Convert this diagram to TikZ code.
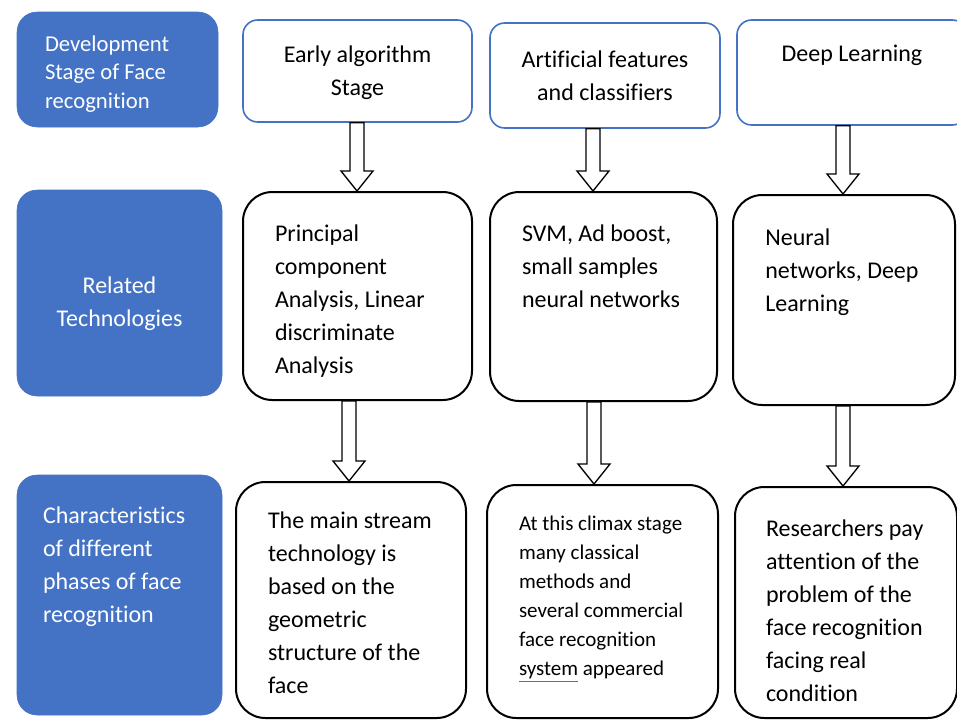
\documentclass[tikz,border=0pt]{standalone}
\usepackage{fontspec}
\setmainfont{Carlito}[Ligatures=NoCommon]
\usetikzlibrary{calc}
\definecolor{wordblue}{HTML}{4472C4}
\newcommand{\bigtext}{\fontsize{18}{24.75}\selectfont}
\newcommand{\firsttext}{\fontsize{17}{21.4}\selectfont}
\newcommand{\smalltext}{\fontsize{15.75}{21.75}\selectfont}
\tikzset{
  stage/.style={fill=wordblue, draw=wordblue, text=white, rounded corners=15pt, font=\bigtext, inner sep=0pt},
  head/.style={draw=wordblue, fill=white, line width=1.2pt, rounded corners=11pt, align=flush center, text width=150pt, font=\bigtext, inner sep=0pt},
  tech/.style={draw=black, fill=white, line width=1.5pt, rounded corners=22pt, align=flush left, font=\bigtext, inner sep=0pt},
  hollow/.style={draw=black, fill=white, line width=1pt, line join=miter},
  firstline/.style={text height=0pt, text depth=#1},
}

\begin{document}
\begin{tikzpicture}[x=0.75pt, y=-0.75pt]
  \clip (0,0) rectangle (957,722);
  % left column
  \node[stage, minimum width=150.75pt, minimum height=86.25pt, text width=108.75pt, align=flush left, font=\firsttext, firstline=27.3pt] (dev) at (117.5,69.5) {Development\\Stage of Face\\recognition};
  \node[stage, minimum width=153.75pt, minimum height=154.5pt, text width=120pt, align=flush center, firstline=0pt] (rel) at (119.5,293) {Related\\Technologies};
  \node[stage, minimum width=153.75pt, minimum height=180pt, text width=114.75pt, align=flush left, firstline=107.1pt] (cha) at (119.5,595) {Characteristics\\of different\\phases of face\\recognition};
  % stages
  \node[head, minimum width=171.75pt, minimum height=76.5pt, firstline=12.6pt] (early) at (357.5,71) {Early algorithm\\Stage};
  \node[head, minimum width=172.5pt, minimum height=78.75pt, firstline=11.85pt] (feat) at (605,75.5) {Artificial features\\and classifiers};
  \node[head, minimum width=172.5pt, minimum height=78.75pt, firstline=16.35pt] (deep) at (852,72.5) {Deep Learning};
  % technologies
  \node[tech, minimum width=171.75pt, minimum height=156pt, text width=123.75pt, firstline=81.6pt] (pca) at (357.5,296) {Principal\\component\\Analysis, Linear\\discriminate\\Analysis};
  \node[tech, minimum width=170.25pt, minimum height=156.75pt, text width=122.25pt, firstline=82.35pt] (svm) at (603.5,296.5) {SVM, Ad boost,\\small samples\\neural networks};
  \node[tech, minimum width=166.5pt, minimum height=157.5pt, text width=118pt, firstline=81.6pt] (nn) at (844,300) {Neural\\networks, Deep\\Learning};
  % characteristics
  \node[tech, minimum width=172.5pt, minimum height=177pt, text width=124.5pt, firstline=107.1pt] (geo) at (351,600) {The main stream\\technology is\\based on the\\geometric\\structure of the\\face};
  \node[tech, minimum width=173.25pt, minimum height=174.75pt, text width=125.25pt, font=\smalltext, firstline=105.9pt] (climax) at (602.5,601.5) {At this climax stage\\many classical\\methods and\\several commercial\\face recognition\\{\color{wordblue}\underline{\color{black}system}} appeared};
  \node[tech, minimum width=166.5pt, minimum height=173.25pt, text width=120pt, firstline=98.85pt] (real) at (846,602.5) {Researchers pay\\attention of the\\problem of the\\face recognition\\facing real\\condition};
  % hollow arrows
  \foreach \a/\b/\cx in {early/pca/357, feat/svm/593, deep/nn/843, pca/geo/349, svm/climax/594, nn/real/843}
    \draw[hollow] ($(\a.south -| \cx,0)+(-7,0)$) -- ($(\b.north -| \cx,0)+(-7,-20)$) -- ++(-9,0) -- (\b.north -| \cx,0) -- ++(16,-20) -- ++(-9,0) -- ($(\a.south -| \cx,0)+(7,0)$) -- cycle;
\end{tikzpicture}
\end{document}
